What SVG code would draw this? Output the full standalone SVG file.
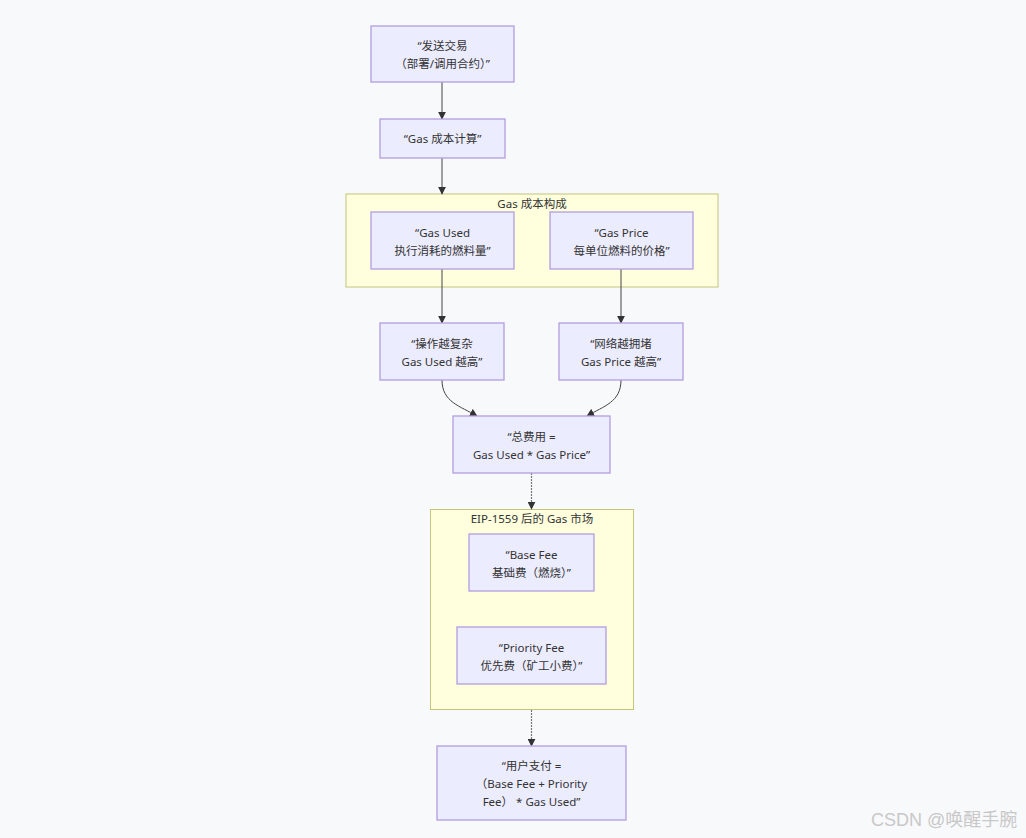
<svg xmlns="http://www.w3.org/2000/svg" width="1026" height="838" viewBox="0 0 1026 838">
<defs>
<marker id="arr" viewBox="0 0 10 10" refX="9" refY="5" markerWidth="8" markerHeight="8" markerUnits="userSpaceOnUse" orient="auto">
<path d="M0,0 L10,5 L0,10 z" fill="#333"/>
</marker>
<style>
.node rect{fill:#ECECFF;stroke:#b39ddf;stroke-width:1.3}
.cluster rect{fill:#FFFFDE;stroke:#c4c47a;stroke-width:1}
text{font-family:"Noto Sans","Noto Sans CJK SC",sans-serif;font-size:11.5px;fill:#333;text-anchor:middle}
.edge{fill:none;stroke:#444;stroke-width:1;marker-end:url(#arr)}
.edge2{fill:none;stroke:#777;stroke-width:1.2;stroke-dasharray:2 1;marker-end:url(#arr)}
.wm{font-size:18px;fill:#c8c8c8;text-anchor:start;font-family:"Liberation Sans","Noto Sans CJK SC",sans-serif}
</style>
</defs>
<rect width="1026" height="838" fill="#F8F9FB"/>
<g id="clusters">
<g id="cluster-cost" class="cluster"><rect x="346" y="194" width="372" height="93"/><text x="532" y="208">Gas 成本构成</text></g>
<g id="cluster-eip" class="cluster"><rect x="430.5" y="509.5" width="203" height="200"/><text x="532" y="523">EIP-1559 后的 Gas 市场</text></g>
</g>
<g id="connectors">
<path class="edge" d="M442,82 L442,119"/>
<path class="edge" d="M442,158 L442,194"/>
<path class="edge" d="M442,269 L442,323"/>
<path class="edge" d="M621,269 L621,323"/>
<path class="edge" d="M442,380 C442,402 460,406 477,416"/>
<path class="edge" d="M621,380 C621,402 604,406 587,416"/>
<path class="edge2" d="M531.5,473 L531.5,509"/>
<path class="edge2" d="M531.5,710 L531.5,746"/>
</g>
<g id="n-send" class="node"><rect x="371" y="26" width="143" height="56"/><text x="442.5" y="50">“发送交易</text><text x="442.5" y="68">（部署/调用合约）”</text></g>
<g id="n-calc" class="node"><rect x="380" y="119" width="125" height="39"/><text x="442.5" y="143">“Gas 成本计算”</text></g>
<g id="n-used" class="node"><rect x="371" y="212" width="143" height="57"/><text x="442.5" y="237">“Gas Used</text><text x="442.5" y="255">执行消耗的燃料量”</text></g>
<g id="n-price" class="node"><rect x="550" y="212" width="143" height="57"/><text x="621.5" y="237">“Gas Price</text><text x="621.5" y="255">每单位燃料的价格”</text></g>
<g id="n-complex" class="node"><rect x="380" y="323" width="124" height="57"/><text x="442" y="348">“操作越复杂</text><text x="442" y="366">Gas Used 越高”</text></g>
<g id="n-congest" class="node"><rect x="559" y="323" width="124" height="57"/><text x="621" y="348">“网络越拥堵</text><text x="621" y="366">Gas Price 越高”</text></g>
<g id="n-total" class="node"><rect x="453" y="416" width="157" height="57"/><text x="531.5" y="441">“总费用 =</text><text x="531.5" y="459">Gas Used * Gas Price”</text></g>
<g id="n-base" class="node"><rect x="469" y="534" width="125" height="57"/><text x="531.5" y="559">“Base Fee</text><text x="531.5" y="577">基础费（燃烧）”</text></g>
<g id="n-prio" class="node"><rect x="457" y="627" width="149" height="57"/><text x="531.5" y="652">“Priority Fee</text><text x="531.5" y="670">优先费（矿工小费）”</text></g>
<g id="n-pay" class="node"><rect x="437" y="746" width="189" height="74"/><text x="531.5" y="770">“用户支付 =</text><text x="531.5" y="788">（Base Fee + Priority</text><text x="531.5" y="806">Fee） * Gas Used”</text></g>
<text class="wm" x="871" y="826">CSDN @唤醒手腕</text>
</svg>
